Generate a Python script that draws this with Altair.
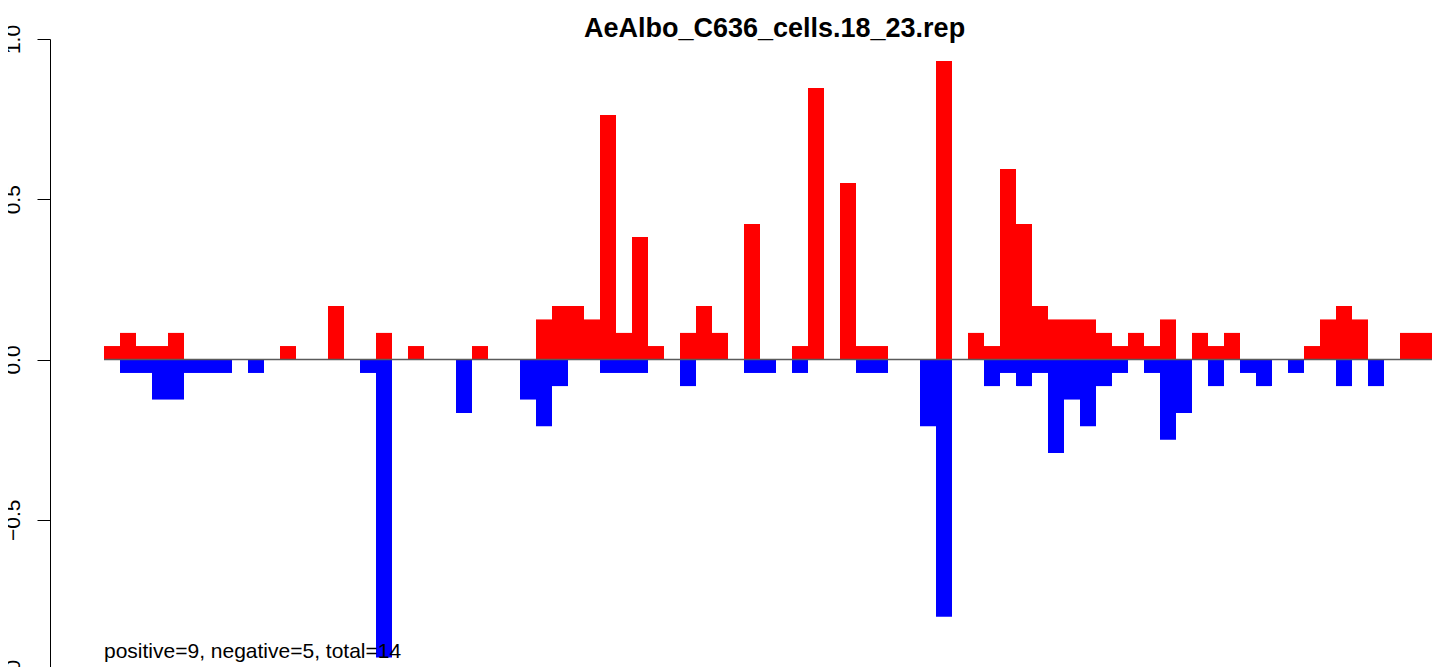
import altair as alt
import pandas as pd

title_text = "AeAlbo_C636_cells.18_23.rep"
note_text = "positive=9, negative=5, total=14"

# one value per bin (83 bins)
positive = [
    0.042, 0.083, 0.042, 0.042, 0.083, 0, 0, 0, 0, 0,
    0, 0.042, 0, 0, 0.167, 0, 0, 0.083, 0, 0.042,
    0, 0, 0, 0.042, 0, 0, 0, 0.125, 0.167, 0.167,
    0.125, 0.763, 0.083, 0.382, 0.042, 0, 0.083, 0.167, 0.083, 0,
    0.423, 0, 0, 0.042, 0.847, 0, 0.551, 0.042, 0.042, 0,
    0, 0, 0.931, 0, 0.083, 0.042, 0.594, 0.423, 0.167, 0.125,
    0.125, 0.125, 0.083, 0.042, 0.083, 0.042, 0.125, 0, 0.083, 0.042,
    0.083, 0, 0, 0, 0, 0.042, 0.125, 0.167, 0.125, 0,
    0, 0.083, 0.083,
]
negative = [
    0, -0.042, -0.042, -0.125, -0.125, -0.042, -0.042, -0.042, 0, -0.042,
    0, 0, 0, 0, 0, 0, -0.042, -0.93, 0, 0,
    0, 0, -0.167, 0, 0, 0, -0.125, -0.208, -0.083, 0,
    0, -0.042, -0.042, -0.042, 0, 0, -0.083, 0, 0, 0,
    -0.042, -0.042, 0, -0.042, 0, 0, 0, -0.042, -0.042, 0,
    0, -0.208, -0.803, 0, 0, -0.083, -0.042, -0.083, -0.042, -0.292,
    -0.125, -0.208, -0.083, -0.042, 0, -0.042, -0.25, -0.167, 0, -0.083,
    0, -0.042, -0.083, 0, -0.042, 0, 0, -0.083, 0, -0.083,
    0, 0, 0,
]
y_ticks = [-1.0, -0.5, 0.0, 0.5, 1.0]
n_bins = len(positive)

rows = []
for i, (p, n) in enumerate(zip(positive, negative)):
    if p:
        rows.append({"bin": i, "bin_end": i + 1, "value": p, "sign": "positive"})
    if n:
        rows.append({"bin": i, "bin_end": i + 1, "value": n, "sign": "negative"})
bars_df = pd.DataFrame(rows)
zero_df = pd.DataFrame({"start": [0], "end": [n_bins], "level": [0.0]})
note_df = pd.DataFrame({"bin": [0], "value": [-0.93], "label": [note_text]})

FONT = "Liberation Sans"
xscale = alt.Scale(domain=[-3.375, 83.0625], nice=False, zero=False)
yscale = alt.Scale(domain=[-1.0, 1.0], nice=False, zero=False)

yaxis = alt.Axis(
    values=y_ticks, format=".1f", title=None, grid=False,
    labelAngle=270, labelAlign="center", labelBaseline="alphabetic",
    labelFont=FONT, labelFontSize=21, labelColor="black", labelPadding=18,
    tickSize=13, tickColor="black", tickWidth=1,
    domainColor="black", domainWidth=1, labelOverlap=False,
)

bars = alt.Chart(bars_df).mark_rect(strokeWidth=0).encode(
    x=alt.X("bin:Q", scale=xscale, axis=None),
    x2="bin_end:Q",
    y=alt.Y("value:Q", scale=yscale, axis=yaxis),
    y2=alt.datum(0),
    color=alt.Color("sign:N", scale=alt.Scale(domain=["positive", "negative"],
                                              range=["#ff0000", "#0000ff"]), legend=None),
)

zero_line = alt.Chart(zero_df).mark_rule(color="#5a5a5a", strokeWidth=1.5).encode(
    x=alt.X("start:Q", scale=xscale, axis=None),
    x2="end:Q",
    y=alt.Y("level:Q", scale=yscale),
)

note = alt.Chart(note_df).mark_text(
    align="left", baseline="alphabetic", font=FONT, fontSize=21, color="black"
).encode(
    x=alt.X("bin:Q", scale=xscale, axis=None),
    y=alt.Y("value:Q", scale=yscale),
    text="label:N",
)

chart = alt.layer(bars, zero_line, note).properties(
    width=1383,
    height=641,
    autosize=alt.AutoSizeParams(type="none"),
    padding={"left": 42, "top": 31, "right": 0, "bottom": 0},
    title=alt.TitleParams(
        text=title_text, font=FONT, fontSize=27, fontWeight="bold", color="black",
        anchor="middle", frame="group", dx=33, dy=19, offset=0,
    ),
).configure_view(stroke=None)

chart.save("out.html", embed_options={"renderer": "svg", "actions": False})
